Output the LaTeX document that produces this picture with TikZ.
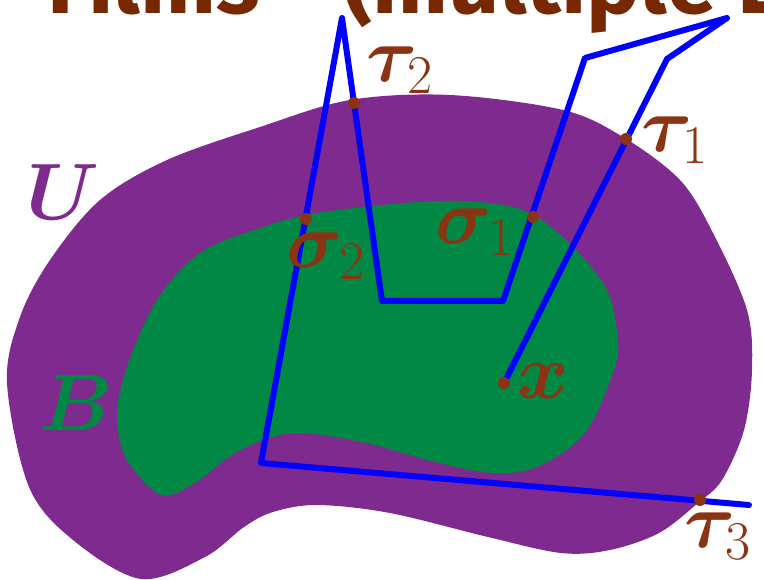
\RequirePackage{fix-cm}
\documentclass[tikz,border=0pt]{standalone}
\usepackage{fontspec}
\usepackage{bm}
\newfontfamily\titlefont{Fira Sans}
\definecolor{upurple}{HTML}{7F2A8E}
\definecolor{bgreen}{HTML}{008844}
\definecolor{lbrown}{HTML}{8B3414}
\definecolor{tbrown}{HTML}{782800}
\tikzset{
  lbl/.style={text=lbrown, inner sep=0pt, font=\fontsize{78}{78}\selectfont},
  setlbl/.style={inner sep=0pt, font=\fontsize{80}{80}\selectfont},
  hit/.style={fill=lbrown},
  walk/.style={draw=blue, line width=6pt, line join=round, line cap=round},
}
\begin{document}
\begin{tikzpicture}[x=1pt,y=-1pt]
\useasboundingbox (0,0) rectangle (764,580);
% title (cut off by the top edge)
\node[anchor=base west, inner sep=0pt, text=tbrown, font=\titlefont\bfseries\fontsize{90}{90}\selectfont] (title) at (47,14) {Films\hspace{62pt} (multiple L};
% region U
\fill[upurple] plot[smooth cycle, tension=0.55] coordinates {
(7,383) (20,317) (50,260) (100,200) (167,160) (260,127) (350,100) (450,95)
(563,110) (623,137) (680,180) (713,233) (747,310) (752,370) (744,430)
(722,480) (698,503) (659,533) (610,550) (561,553) (488,537) (390,513)
(317,505) (273,512) (244,527) (205,557) (141,579) (73,540) (29,487)};
% region B
\fill[bgreen] plot[smooth cycle, tension=0.55] coordinates {
(117,417) (127,367) (157,300) (200,253) (260,228) (317,213) (417,202)
(480,202) (530,213) (573,247) (607,290) (617,333) (615,367) (585,433)
(537,467) (493,473) (439,463) (366,443) (302,433) (263,440) (229,457)
(195,483) (161,495) (127,460)};
\node[setlbl, text=upurple] (U) at (63,192) {$\bm{U}$};
\node[setlbl, text=bgreen] (B) at (76,403) {$\bm{B}$};
% path vertices
\coordinate (x) at (504,383);
\coordinate (p1) at (667,59);
\coordinate (p2) at (727,18);
\coordinate (p3) at (585,58);
\coordinate (p4) at (503,301);
\coordinate (p5) at (382,301);
\coordinate (p6) at (342,18);
\coordinate (p7) at (261,463);
\coordinate (p8) at (749,505);
\draw[walk] (x) -- (p1) -- (p2) -- (p3) -- (p4) -- (p5) -- (p6) -- (p7) -- (p8);
% hitting points
\coordinate (t1) at (626,139);
\coordinate (s1) at (533,217);
\coordinate (t2) at (354,103);
\coordinate (s2) at (306,219);
\coordinate (t3) at (700,500);
\foreach \p in {x,t1,s1,t2,s2,t3} \fill[hit] (\p) circle (6);
\node[lbl] (xl) at (543,381) {$\bm{x}$};
\node[lbl] (t1l) at (675,140) {$\bm{\tau}_1$};
\node[lbl] (s1l) at (475,232) {$\bm{\sigma}_1$};
\node[lbl] (t2l) at (400,70) {$\bm{\tau}_2$};
\node[lbl] (s2l) at (326,256) {$\bm{\sigma}_2$};
\node[lbl] (t3l) at (718,536) {$\bm{\tau}_3$};
\end{tikzpicture}
\end{document}
